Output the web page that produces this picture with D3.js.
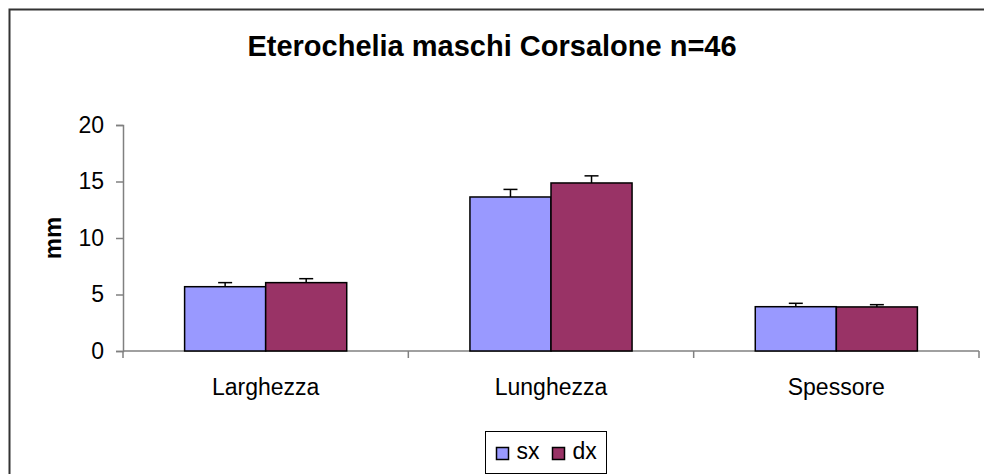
<!DOCTYPE html>
<html>
<head>
<meta charset="utf-8">
<script src="https://cdn.jsdelivr.net/npm/d3@7"></script>
<style>
  html, body { margin: 0; background: #fff; overflow: hidden; }
  svg { display: block; }
  text { font-family: "Liberation Sans", Arial, sans-serif; }
</style>
</head>
<body>
<div id="general"></div>
<script>
const w = 984, h = 474;
const m = {l: 123, r: 5, t: 125, b: 123};

const categories = ["Larghezza", "Lunghezza", "Spessore"];
const seriesNames = ["sx", "dx"];
const sxValues = [5.69, 13.63, 3.92];
const dxValues = [6.05, 14.87, 3.9];
const sxErr = [0.36, 0.67, 0.3];
const dxErr = [0.35, 0.63, 0.2];
const yTicks = [0, 5, 10, 15, 20];
const colors = ["#9999FF", "#993366"];

const data = categories.map((c, i) => ({
  cat: c,
  vals: [
    {s: "sx", v: sxValues[i], e: sxErr[i]},
    {s: "dx", v: dxValues[i], e: dxErr[i]}
  ]
}));

const svg = d3.select("#general").append("svg")
  .attr("width", w).attr("height", h);

// chart border: only top and left edges are inside the picture
svg.append("path")
  .attr("d", `M9.5,${h}V9.5H${w}`)
  .attr("fill", "none").attr("stroke", "#333").attr("stroke-width", 2);

const x0 = d3.scaleBand().domain(categories).range([m.l, w - m.r]);
const x1 = d3.scaleBand().domain(seriesNames).range([0, x0.bandwidth()]).paddingOuter(0.76);
const y = d3.scaleLinear().domain([0, 20]).range([h - m.b, m.t]);
const color = d3.scaleOrdinal().domain(seriesNames).range(colors);

// title
svg.append("text")
  .attr("x", 492).attr("y", 56)
  .attr("text-anchor", "middle")
  .attr("font-weight", "bold").attr("font-size", 29)
  .text("Eterochelia maschi Corsalone n=46");

// y axis
const yAxis = svg.append("g")
  .attr("transform", `translate(${m.l},0)`)
  .call(d3.axisLeft(y).tickValues(yTicks).tickSize(7).tickPadding(12));
yAxis.selectAll("path, line").attr("stroke", "#808080").attr("stroke-width", 1.5);
yAxis.selectAll("text").attr("font-size", 23).attr("fill", "#000")
  .style("font-family", '"Liberation Sans", Arial, sans-serif');

svg.append("text")
  .attr("transform", `translate(61,238) rotate(-90)`)
  .attr("text-anchor", "middle")
  .attr("font-weight", "bold").attr("font-size", 24)
  .text("mm");

// x axis with ticks at category boundaries
const xg = svg.append("g");
xg.append("line")
  .attr("x1", m.l).attr("x2", w - m.r)
  .attr("y1", y(0)).attr("y2", y(0))
  .attr("stroke", "#808080").attr("stroke-width", 1.5);
xg.selectAll("line.tk")
  .data(categories.concat(["end"]))
  .join("line")
  .attr("class", "tk")
  .attr("x1", (d, i) => m.l + i * x0.bandwidth())
  .attr("x2", (d, i) => m.l + i * x0.bandwidth())
  .attr("y1", y(0)).attr("y2", y(0) + 7)
  .attr("stroke", "#808080").attr("stroke-width", 1.5);
xg.selectAll("text")
  .data(categories)
  .join("text")
  .attr("x", d => x0(d) + x0.bandwidth() / 2)
  .attr("y", y(0) + 44)
  .attr("text-anchor", "middle")
  .attr("font-size", 23)
  .text(d => d);

// bars
const groups = svg.append("g").selectAll("g")
  .data(data)
  .join("g")
  .attr("transform", d => `translate(${x0(d.cat)},0)`);

groups.selectAll("rect")
  .data(d => d.vals)
  .join("rect")
  .attr("x", d => x1(d.s))
  .attr("y", d => y(d.v))
  .attr("width", x1.bandwidth())
  .attr("height", d => y(0) - y(d.v))
  .attr("fill", d => color(d.s))
  .attr("stroke", "#000").attr("stroke-width", 1.5);

// error bars (upper only)
const eb = groups.selectAll("g.err")
  .data(d => d.vals)
  .join("g").attr("class", "err");
eb.append("line")
  .attr("x1", d => x1(d.s) + x1.bandwidth() / 2)
  .attr("x2", d => x1(d.s) + x1.bandwidth() / 2)
  .attr("y1", d => y(d.v)).attr("y2", d => y(d.v + d.e))
  .attr("stroke", "#000").attr("stroke-width", 1.5);
eb.append("line")
  .attr("x1", d => x1(d.s) + x1.bandwidth() / 2 - 7)
  .attr("x2", d => x1(d.s) + x1.bandwidth() / 2 + 7)
  .attr("y1", d => y(d.v + d.e)).attr("y2", d => y(d.v + d.e))
  .attr("stroke", "#000").attr("stroke-width", 1.5);

// legend
const lg = svg.append("g").attr("transform", "translate(485.5,431.5)");
lg.append("rect")
  .attr("width", 121).attr("height", 42)
  .attr("fill", "#fff").attr("stroke", "#000").attr("stroke-width", 1);
const items = lg.selectAll("g")
  .data(seriesNames)
  .join("g")
  .attr("transform", (d, i) => `translate(${11 + i * 56},16)`);
items.append("rect")
  .attr("width", 12).attr("height", 12)
  .attr("fill", d => color(d))
  .attr("stroke", "#000").attr("stroke-width", 1.5);
items.append("text")
  .attr("x", 20).attr("y", 11)
  .attr("font-size", 23)
  .text(d => d);
</script>
</body>
</html>
